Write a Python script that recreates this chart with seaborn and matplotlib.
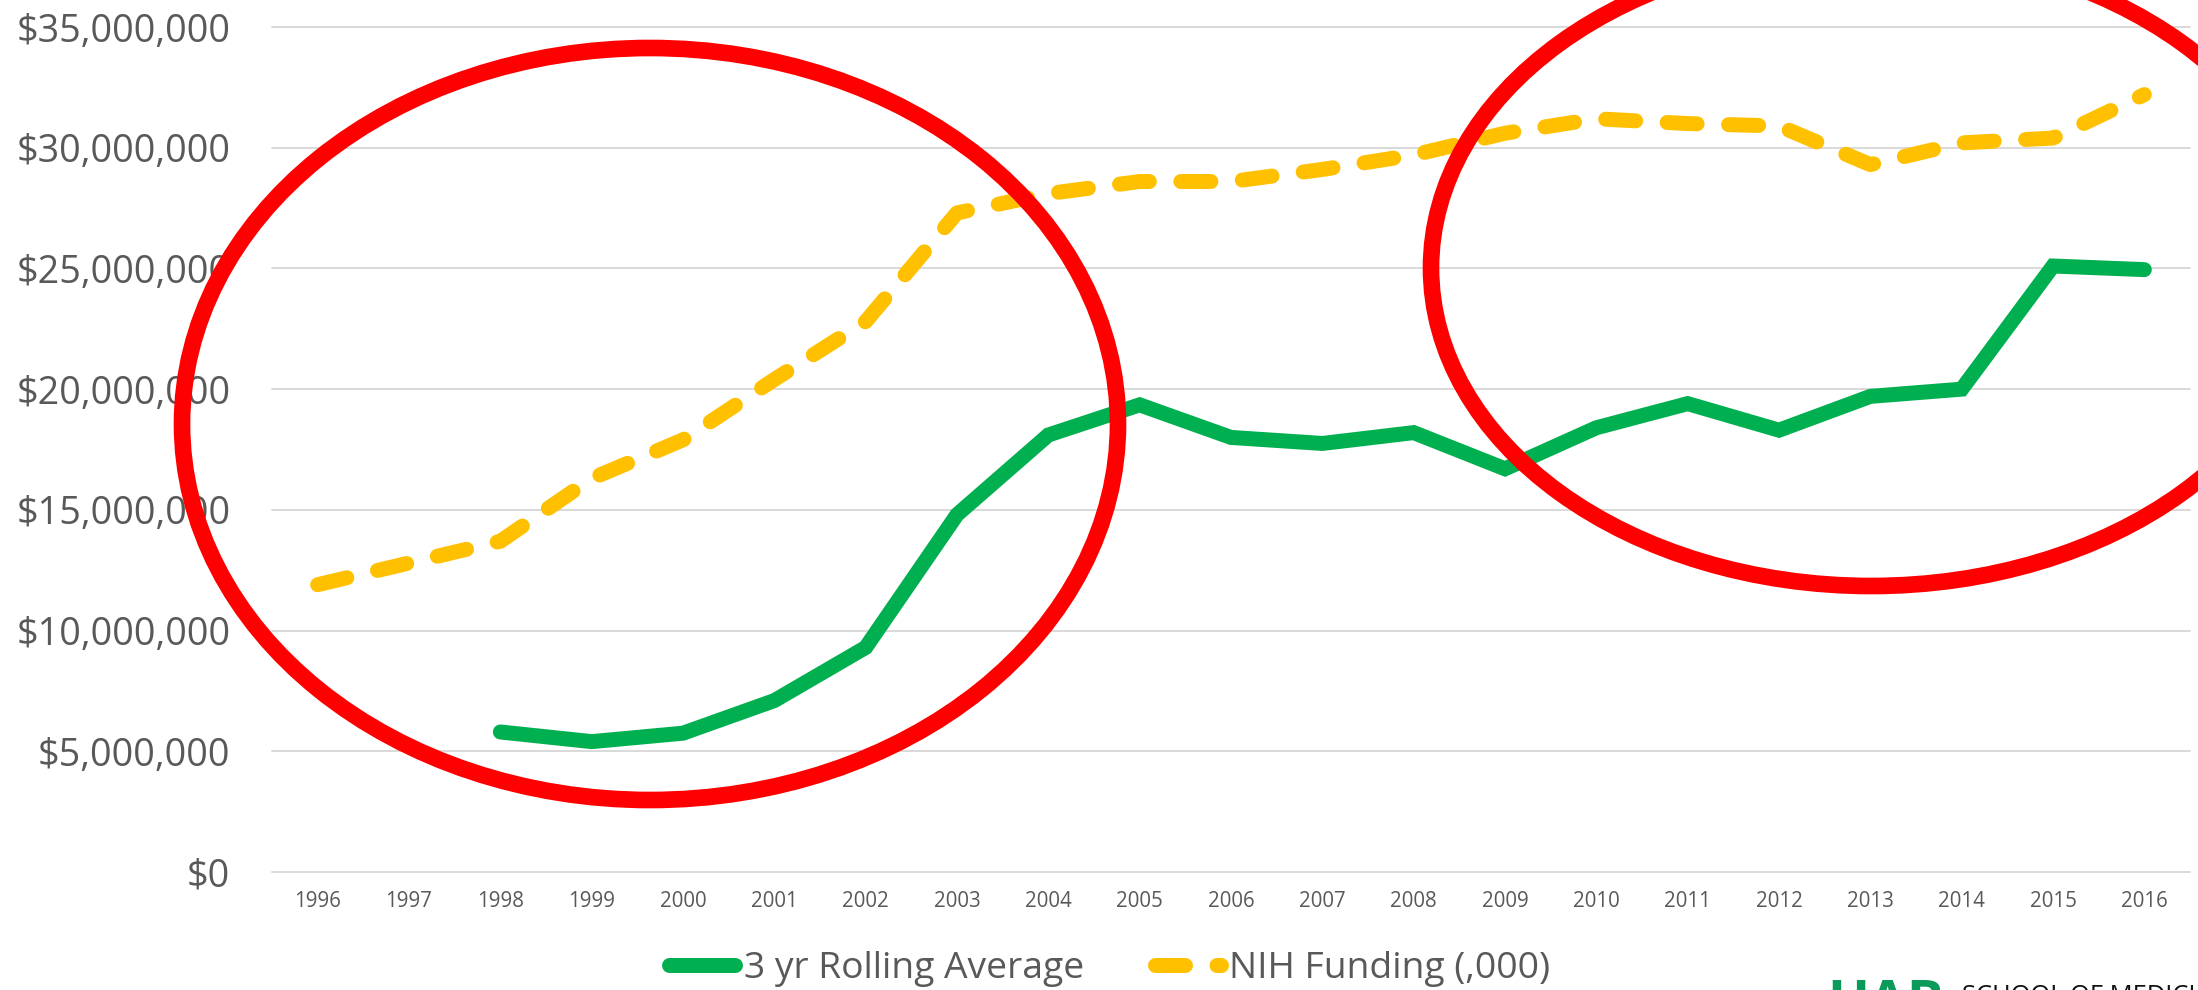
import matplotlib
matplotlib.use("Agg")
import matplotlib.pyplot as plt
from matplotlib.patches import Ellipse
from matplotlib.ticker import StrMethodFormatter
import pandas as pd
import seaborn as sns

# values
years = list(range(1996, 2017))
nih_funding = [11.9e6, 12.8e6, 13.7e6, 16.3e6, 17.9e6, 20.4e6, 22.8e6, 27.3e6,
               28.1e6, 28.6e6, 28.6e6, 29.1e6, 29.7e6, 30.6e6, 31.2e6, 31.0e6,
               30.9e6, 29.3e6, 30.2e6, 30.4e6, 32.2e6]
rolling_years = list(range(1998, 2017))
rolling_avg = [5.8e6, 5.4e6, 5.75e6, 7.1e6, 9.3e6, 14.8e6, 18.1e6, 19.35e6,
               18.0e6, 17.75e6, 18.2e6, 16.7e6, 18.4e6, 19.4e6, 18.3e6, 19.7e6,
               20.0e6, 25.1e6, 24.95e6]
y_ticks = [0, 5e6, 10e6, 15e6, 20e6, 25e6, 30e6, 35e6]

GREEN = "#00B050"
YELLOW = "#FFC000"
GRID = "#D9D9D9"
TEXT = "#595959"

sns.set_style("white")
plt.rcParams["font.family"] = ["Open Sans", "DejaVu Sans"]

W, H = 2198, 990
fig = plt.figure(figsize=(W / 100, H / 100), dpi=100)
ax = fig.add_axes([272 / W, 1 - 872 / H, (2190 - 272) / W, (872 - 27) / H])

roll_df = pd.DataFrame({"year": rolling_years, "value": rolling_avg})
nih_df = pd.DataFrame({"year": years, "value": nih_funding})

sns.lineplot(data=roll_df, x="year", y="value", ax=ax, color=GREEN, lw=10.8,
             solid_capstyle="round", solid_joinstyle="miter",
             label="3 yr Rolling Average", errorbar=None)
sns.lineplot(data=nih_df, x="year", y="value", ax=ax, color=YELLOW, lw=10.8,
             dash_capstyle="round", dash_joinstyle="round",
             label="NIH Funding (,000)", errorbar=None)
ax.lines[-1].set_dashes((2.0, 2.1))

ax.set_xlim(1995.5, 2016.5)
ax.set_ylim(0, 35e6)
ax.set_xticks(years)
ax.set_xticklabels([str(y) for y in years])
ax.set_yticks(y_ticks)
ax.yaxis.set_major_formatter(StrMethodFormatter("${x:,.0f}"))
ax.set_xlabel("")
ax.set_ylabel("")
ax.grid(axis="y", color=GRID, lw=1.4)
for gl in ax.get_ygridlines():
    gl.set_clip_on(False)
ax.grid(axis="x", visible=False)
sns.despine(ax=ax, left=True, bottom=True)
ax.tick_params(axis="y", length=0, pad=30, labelsize=27.2, labelcolor=TEXT)
ax.tick_params(axis="x", length=0, pad=14, labelsize=14.8, labelcolor=TEXT)

handles, labels = ax.get_legend_handles_labels()
ax.get_legend().remove()
fig.legend(handles, labels, loc="center", bbox_to_anchor=(0.505, 1 - 969 / H),
           ncol=2, frameon=False, fontsize=26.8, labelcolor=TEXT,
           handlelength=1.77, handletextpad=0.23, columnspacing=1.9,
           borderaxespad=0, borderpad=0)

# red hand-drawn style circles, in figure pixels
over = fig.add_axes([0, 0, 1, 1])
over.set_xlim(0, W)
over.set_ylim(H, 0)
over.axis("off")
over.patch.set_alpha(0)
over.add_patch(Ellipse((650, 424), 2 * 468, 2 * 376, fill=False,
                       ec="#FF0000", lw=12))
over.add_patch(Ellipse((1871, 268), 2 * 440, 2 * 318, fill=False,
                       ec="#FF0000", lw=12))

# cropped logo at the bottom right
fig.text(1827 / W, 1 - 1020 / H, "UAB", color="#0a9a5a", fontsize=40,
         fontweight="bold", ha="left", va="baseline")
fig.text(1962 / W, 1 - 1003 / H, "SCHOOL OF MEDICINE", color="#111111",
         fontsize=18.4, ha="left", va="baseline")

fig.savefig("out.png", dpi=100)
